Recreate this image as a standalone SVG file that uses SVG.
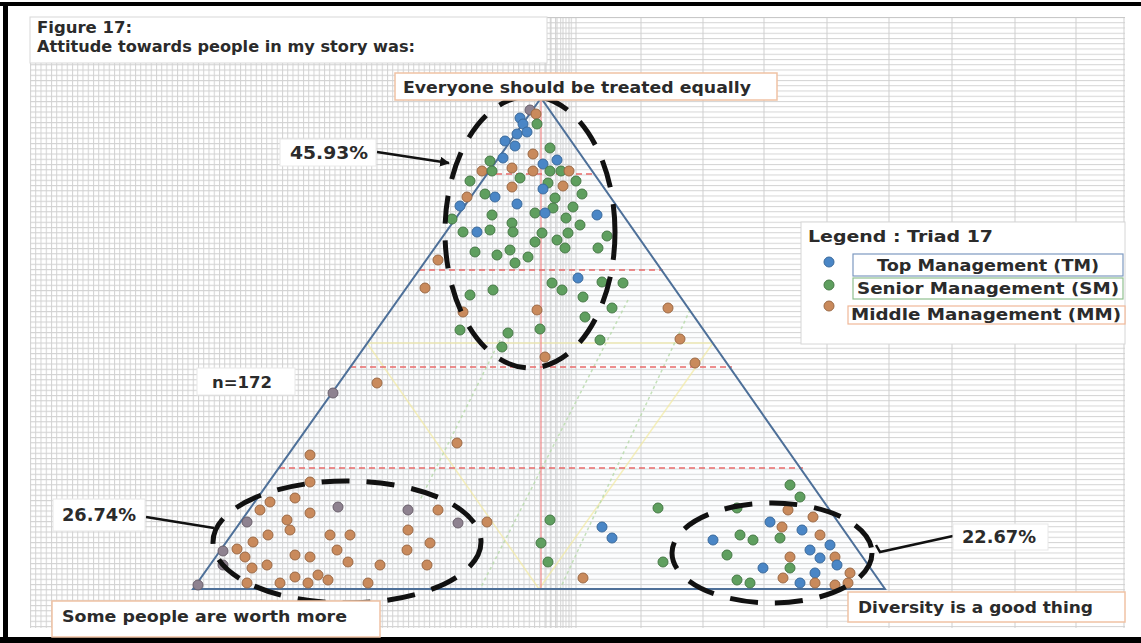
<svg xmlns="http://www.w3.org/2000/svg" width="1141" height="643" viewBox="0 0 1141 643">
  <defs>
    <style>
      .t { font-family: "DejaVu Sans", Verdana, sans-serif; font-weight: bold; fill: #2b2b2b; }
      .lblbox { fill: #ffffff; stroke: #f0c2a4; stroke-width: 1.5; }
      .pctbox { fill: #ffffff; stroke: #e8e8e8; stroke-width: 1; }
      .pointer { stroke: #111; stroke-width: 2.5; fill: none; }
      .ring { fill: none; stroke: #111; stroke-width: 5; stroke-dasharray: 28 17; }
      .side { stroke: #4e7099; stroke-width: 2; fill: none; }
      .level { stroke: #e86a6a; stroke-width: 1.5; stroke-dasharray: 6 4; fill: none; }
      .guideY { stroke: #f2eaa0; stroke-width: 1.5; fill: none; opacity: 0.7; }
      .guideG { stroke: #b5d9a8; stroke-width: 1.5; stroke-dasharray: 3 3; fill: none; opacity: 0.8; }
      .b { fill: #4a86c6; stroke: #3a6a9c; stroke-width: 1; }
      .g { fill: #5f9f5f; stroke: #477a47; stroke-width: 1; }
      .o { fill: #c98a5c; stroke: #9c6a46; stroke-width: 1; }
      .n { fill: #8e8290; stroke: #6a606c; stroke-width: 1; }
    </style>
    <pattern id="fineGrid" x="30" y="17" width="5.25" height="5.25" patternUnits="userSpaceOnUse">
      <path d="M0 0.5H5.25M0.5 0V5.25" stroke="#d2d2d2" stroke-width="1" fill="none"/>
    </pattern>
    <pattern id="rowGrid" x="0" y="17" width="5.25" height="5.25" patternUnits="userSpaceOnUse">
      <path d="M0 0.5H5.25" stroke="#d4d4d4" stroke-width="1" fill="none"/>
    </pattern>
    <marker id="head" viewBox="0 0 10 10" refX="9" refY="5" markerWidth="4" markerHeight="4" orient="auto">
      <path d="M0 0L10 5L0 10Z" fill="#111"/>
    </marker>
  </defs>

  <!-- page -->
  <rect x="0" y="0" width="1141" height="643" fill="#ffffff"/>

  <!-- graph paper -->
  <g id="paper">
    <rect x="30" y="17" width="546" height="611" fill="url(#fineGrid)"/>
    <rect x="576" y="17" width="549" height="611" fill="url(#rowGrid)"/>
    <path d="M546 17V628M551 17V628M557 17V628M563 17V628M569 17V628M576 17V628M641 17V628M703 17V628M764 17V628M827 17V628M889 17V628M952 17V628M1015 17V628M1076 17V628M1124 17V628" stroke="#cfcfcf" stroke-width="1"/>
    <line x1="30" y1="17.5" x2="1125" y2="17.5" stroke="#c8c8c8" stroke-width="1"/>
  </g>

  <!-- outer frame -->
  <g id="frame" fill="#000">
    <rect x="0" y="2" width="1141" height="4"/>
    <rect x="3" y="2" width="5" height="641"/>
    <rect x="0" y="637" width="1141" height="6"/>
  </g>

  <!-- title -->
  <g id="title">
    <rect x="30" y="17" width="517" height="46" fill="#ffffff" stroke="#d8d8d8" stroke-width="1"/>
    <text class="t" x="37" y="33" font-size="16.5">Figure 17:</text>
    <text class="t" x="37" y="52" font-size="16.5" textLength="378" lengthAdjust="spacingAndGlyphs">Attitude towards people in my story was:</text>
  </g>

  <!-- triad frame -->
  <g id="triad">
    <polygon points="541,98 193,589 885,589" fill="#e4f0fa" fill-opacity="0.12" stroke="none"/>
    <line class="guideY" x1="367" y1="343" x2="539" y2="589"/>
    <line class="guideY" x1="713" y1="343" x2="539" y2="589"/>
    <line class="guideY" x1="367" y1="343" x2="713" y2="343"/>
    <line class="guideG" x1="628" y1="300" x2="480" y2="589"/>
    <line class="guideG" x1="500" y1="340" x2="420" y2="500"/>
    <line class="guideG" x1="690" y1="310" x2="560" y2="589"/>
    <line x1="541" y1="98" x2="541" y2="589" stroke="#f08a8a" stroke-width="1.2"/>
    <line class="level" x1="486" y1="174" x2="596" y2="174"/>
    <line class="level" x1="419" y1="270" x2="663" y2="270"/>
    <line class="level" x1="350" y1="367" x2="732" y2="367"/>
    <line class="level" x1="279" y1="468" x2="803" y2="468"/>
    <polygon class="side" points="541,98 193,589 885,589"/>
  </g>

  <!-- story points -->
  <g id="points">
    <circle class="n" cx="530" cy="110" r="5"/><circle class="o" cx="536" cy="114" r="5"/>
    <circle class="b" cx="520" cy="118" r="5"/><circle class="g" cx="537" cy="124" r="5"/>
    <circle class="b" cx="523" cy="124" r="5"/><circle class="b" cx="517" cy="134" r="5"/>
    <circle class="b" cx="527" cy="132" r="5"/><circle class="b" cx="505" cy="141" r="5"/>
    <circle class="b" cx="515" cy="146" r="5"/><circle class="o" cx="533" cy="154" r="5"/>
    <circle class="g" cx="550" cy="148" r="5"/><circle class="b" cx="503" cy="158" r="5"/>
    <circle class="g" cx="490" cy="161" r="5"/><circle class="b" cx="543" cy="164" r="5"/>
    <circle class="b" cx="557" cy="160" r="5"/><circle class="o" cx="482" cy="171" r="5"/>
    <circle class="g" cx="492" cy="171" r="5"/><circle class="o" cx="512" cy="168" r="5"/>
    <circle class="o" cx="533" cy="171" r="5"/><circle class="g" cx="550" cy="171" r="5"/>
    <circle class="g" cx="561" cy="171" r="5"/><circle class="o" cx="569" cy="171" r="5"/>
    <circle class="g" cx="520" cy="178" r="5"/><circle class="g" cx="470" cy="181" r="5"/>
    <circle class="g" cx="548" cy="183" r="5"/><circle class="o" cx="563" cy="186" r="5"/>
    <circle class="g" cx="576" cy="181" r="5"/><circle class="o" cx="512" cy="187" r="5"/>
    <circle class="b" cx="543" cy="189" r="5"/><circle class="g" cx="485" cy="194" r="5"/>
    <circle class="o" cx="467" cy="197" r="5"/><circle class="b" cx="495" cy="197" r="5"/>
    <circle class="g" cx="582" cy="194" r="5"/><circle class="g" cx="555" cy="198" r="5"/>
    <circle class="b" cx="517" cy="204" r="5"/><circle class="b" cx="460" cy="206" r="5"/>
    <circle class="g" cx="573" cy="207" r="5"/><circle class="g" cx="553" cy="208" r="5"/>
    <circle class="g" cx="535" cy="213" r="5"/><circle class="b" cx="545" cy="213" r="5"/>
    <circle class="g" cx="492" cy="215" r="5"/><circle class="g" cx="452" cy="219" r="5"/>
    <circle class="g" cx="566" cy="218" r="5"/><circle class="b" cx="597" cy="215" r="5"/>
    <circle class="g" cx="512" cy="223" r="5"/><circle class="g" cx="580" cy="225" r="5"/>
    <circle class="g" cx="463" cy="232" r="5"/><circle class="b" cx="477" cy="232" r="5"/>
    <circle class="g" cx="490" cy="230" r="5"/><circle class="g" cx="513" cy="232" r="5"/>
    <circle class="g" cx="542" cy="233" r="5"/><circle class="g" cx="568" cy="233" r="5"/>
    <circle class="g" cx="607" cy="236" r="5"/><circle class="g" cx="535" cy="242" r="5"/>
    <circle class="g" cx="557" cy="240" r="5"/><circle class="g" cx="475" cy="252" r="5"/>
    <circle class="g" cx="497" cy="255" r="5"/><circle class="g" cx="510" cy="250" r="5"/>
    <circle class="g" cx="528" cy="257" r="5"/><circle class="g" cx="565" cy="248" r="5"/>
    <circle class="g" cx="598" cy="248" r="5"/><circle class="o" cx="438" cy="260" r="5"/>
    <circle class="g" cx="515" cy="263" r="5"/><circle class="o" cx="425" cy="288" r="5"/>
    <circle class="g" cx="552" cy="283" r="5"/><circle class="b" cx="578" cy="278" r="5"/>
    <circle class="g" cx="602" cy="282" r="5"/><circle class="g" cx="623" cy="283" r="5"/>
    <circle class="g" cx="493" cy="290" r="5"/><circle class="g" cx="470" cy="295" r="5"/>
    <circle class="g" cx="562" cy="290" r="5"/><circle class="g" cx="583" cy="297" r="5"/>
    <circle class="g" cx="612" cy="308" r="5"/><circle class="o" cx="537" cy="310" r="5"/>
    <circle class="o" cx="463" cy="312" r="5"/><circle class="o" cx="668" cy="308" r="5"/>
    <circle class="g" cx="585" cy="317" r="5"/><circle class="g" cx="460" cy="330" r="5"/>
    <circle class="g" cx="540" cy="329" r="5"/><circle class="g" cx="508" cy="333" r="5"/>
    <circle class="g" cx="600" cy="340" r="5"/><circle class="g" cx="502" cy="347" r="5"/>
    <circle class="o" cx="680" cy="339" r="5"/><circle class="o" cx="545" cy="357" r="5"/>
    <circle class="o" cx="695" cy="363" r="5"/>
    <circle class="o" cx="377" cy="383" r="5"/><circle class="n" cx="333" cy="393" r="5"/>
    <circle class="o" cx="457" cy="443" r="5"/><circle class="o" cx="310" cy="455" r="5"/>
    <circle class="o" cx="310" cy="482" r="5"/>
    <circle class="o" cx="295" cy="498" r="5"/><circle class="o" cx="270" cy="502" r="5"/>
    <circle class="n" cx="338" cy="507" r="5"/><circle class="o" cx="260" cy="510" r="5"/>
    <circle class="o" cx="310" cy="513" r="5"/><circle class="n" cx="247" cy="522" r="5"/>
    <circle class="o" cx="287" cy="520" r="5"/><circle class="o" cx="290" cy="530" r="5"/>
    <circle class="o" cx="268" cy="535" r="5"/><circle class="o" cx="330" cy="535" r="5"/>
    <circle class="o" cx="350" cy="535" r="5"/><circle class="n" cx="408" cy="510" r="5"/>
    <circle class="o" cx="438" cy="510" r="5"/><circle class="n" cx="458" cy="523" r="5"/>
    <circle class="o" cx="408" cy="530" r="5"/><circle class="o" cx="253" cy="542" r="5"/>
    <circle class="o" cx="237" cy="549" r="5"/><circle class="o" cx="430" cy="543" r="5"/>
    <circle class="n" cx="223" cy="551" r="5"/><circle class="o" cx="245" cy="557" r="5"/>
    <circle class="o" cx="295" cy="555" r="5"/><circle class="o" cx="310" cy="557" r="5"/>
    <circle class="o" cx="337" cy="550" r="5"/><circle class="o" cx="407" cy="550" r="5"/>
    <circle class="o" cx="348" cy="562" r="5"/><circle class="o" cx="267" cy="565" r="5"/>
    <circle class="n" cx="223" cy="565" r="5"/><circle class="o" cx="252" cy="568" r="5"/>
    <circle class="o" cx="380" cy="565" r="5"/><circle class="o" cx="427" cy="565" r="5"/>
    <circle class="o" cx="295" cy="577" r="5"/><circle class="o" cx="318" cy="575" r="5"/>
    <circle class="o" cx="328" cy="580" r="5"/><circle class="o" cx="308" cy="583" r="5"/>
    <circle class="o" cx="280" cy="583" r="5"/><circle class="o" cx="247" cy="583" r="5"/>
    <circle class="o" cx="368" cy="583" r="5"/><circle class="n" cx="198" cy="585" r="5"/>
    <circle class="o" cx="487" cy="522" r="5"/>
    <circle class="g" cx="550" cy="520" r="5"/><circle class="b" cx="602" cy="527" r="5"/>
    <circle class="b" cx="612" cy="538" r="5"/><circle class="g" cx="541" cy="543" r="5"/>
    <circle class="g" cx="548" cy="562" r="5"/><circle class="o" cx="583" cy="578" r="5"/>
    <circle class="g" cx="658" cy="508" r="5"/><circle class="g" cx="663" cy="562" r="5"/>
    <circle class="g" cx="790" cy="485" r="5"/><circle class="g" cx="800" cy="497" r="5"/>
    <circle class="g" cx="737" cy="508" r="5"/><circle class="o" cx="788" cy="510" r="5"/>
    <circle class="o" cx="813" cy="517" r="5"/><circle class="b" cx="770" cy="522" r="5"/>
    <circle class="o" cx="782" cy="527" r="5"/><circle class="b" cx="802" cy="530" r="5"/>
    <circle class="o" cx="820" cy="535" r="5"/><circle class="b" cx="713" cy="540" r="5"/>
    <circle class="g" cx="740" cy="535" r="5"/><circle class="g" cx="753" cy="540" r="5"/>
    <circle class="g" cx="780" cy="538" r="5"/><circle class="b" cx="830" cy="545" r="5"/>
    <circle class="b" cx="810" cy="550" r="5"/><circle class="g" cx="727" cy="555" r="5"/>
    <circle class="o" cx="790" cy="557" r="5"/><circle class="b" cx="820" cy="558" r="5"/>
    <circle class="o" cx="835" cy="557" r="5"/><circle class="b" cx="837" cy="565" r="5"/>
    <circle class="b" cx="763" cy="568" r="5"/><circle class="g" cx="790" cy="568" r="5"/>
    <circle class="b" cx="815" cy="573" r="5"/><circle class="o" cx="850" cy="573" r="5"/>
    <circle class="g" cx="737" cy="580" r="5"/><circle class="g" cx="750" cy="583" r="5"/>
    <circle class="o" cx="783" cy="578" r="5"/><circle class="b" cx="800" cy="583" r="5"/>
    <circle class="o" cx="815" cy="583" r="5"/><circle class="o" cx="835" cy="585" r="5"/>
    <circle class="o" cx="848" cy="583" r="5"/>
  </g>

  <!-- cluster rings -->
  <g id="rings">
    <ellipse class="ring" cx="530" cy="232" rx="85" ry="136"/>
    <ellipse class="ring" cx="347" cy="542" rx="134" ry="61"/>
    <ellipse class="ring" cx="772" cy="553" rx="100" ry="50"/>
  </g>

  <!-- corner labels -->
  <g id="label-top">
    <rect class="lblbox" x="395" y="73" width="382" height="27"/>
    <text class="t" x="403" y="93" font-size="16.5" textLength="348" lengthAdjust="spacingAndGlyphs">Everyone should be treated equally</text>
  </g>
  <g id="label-left">
    <rect class="lblbox" x="52" y="601" width="328" height="36"/>
    <text class="t" x="62" y="622" font-size="16.5" textLength="285" lengthAdjust="spacingAndGlyphs">Some people are worth more</text>
  </g>
  <g id="label-right">
    <rect class="lblbox" x="848" y="592" width="277" height="30"/>
    <text class="t" x="858" y="613" font-size="16.5" textLength="235" lengthAdjust="spacingAndGlyphs">Diversity is a good thing</text>
  </g>

  <!-- percentage callouts -->
  <g id="connectors">
    <line class="pointer" x1="377" y1="152" x2="449" y2="163" marker-end="url(#head)"/>
    <line class="pointer" x1="146" y1="517" x2="214" y2="528"/>
    <polyline class="pointer" points="953,536 880,552 876,545"/>
  </g>
  <g id="pct-top">
    <rect class="pctbox" x="280" y="139" width="96" height="27"/>
    <text class="t" x="290" y="159" font-size="17.5" textLength="78" lengthAdjust="spacingAndGlyphs">45.93%</text>
  </g>
  <g id="pct-left">
    <rect class="pctbox" x="53" y="499" width="92" height="32"/>
    <text class="t" x="62" y="521" font-size="17.5" textLength="74" lengthAdjust="spacingAndGlyphs">26.74%</text>
  </g>
  <g id="pct-right">
    <rect class="pctbox" x="953" y="524" width="95" height="26"/>
    <text class="t" x="962" y="543" font-size="17.5" textLength="74" lengthAdjust="spacingAndGlyphs">22.67%</text>
  </g>
  <g id="sample-size">
    <rect class="pctbox" x="197" y="368" width="98" height="27"/>
    <text class="t" x="212" y="388" font-size="16.5">n=172</text>
  </g>

  <!-- legend -->
  <g id="legend">
    <rect x="801" y="222" width="324" height="122" fill="#ffffff" stroke="#d6d6d6" stroke-width="1"/>
    <text class="t" x="808" y="242" font-size="16" textLength="185" lengthAdjust="spacingAndGlyphs">Legend  : Triad  17</text>
    <circle class="b" cx="829" cy="262" r="5"/>
    <circle class="g" cx="829" cy="285" r="5"/>
    <circle class="o" cx="829" cy="306" r="5"/>
    <rect x="853" y="254" width="270" height="22" fill="#ffffff" stroke="#7d99c0" stroke-width="1.2"/>
    <text class="t" x="988" y="271" font-size="16" text-anchor="middle" textLength="222" lengthAdjust="spacingAndGlyphs">Top Management  (TM)</text>
    <rect x="853" y="278" width="270" height="21" fill="#ffffff" stroke="#8fc08f" stroke-width="1.2"/>
    <text class="t" x="988" y="294" font-size="16" text-anchor="middle" textLength="262" lengthAdjust="spacingAndGlyphs">Senior Management  (SM)</text>
    <rect x="848" y="306" width="277" height="18" fill="#ffffff" stroke="#f0b898" stroke-width="1.2"/>
    <text class="t" x="986" y="320" font-size="16" text-anchor="middle" textLength="270" lengthAdjust="spacingAndGlyphs">Middle Management  (MM)</text>
  </g>
</svg>
